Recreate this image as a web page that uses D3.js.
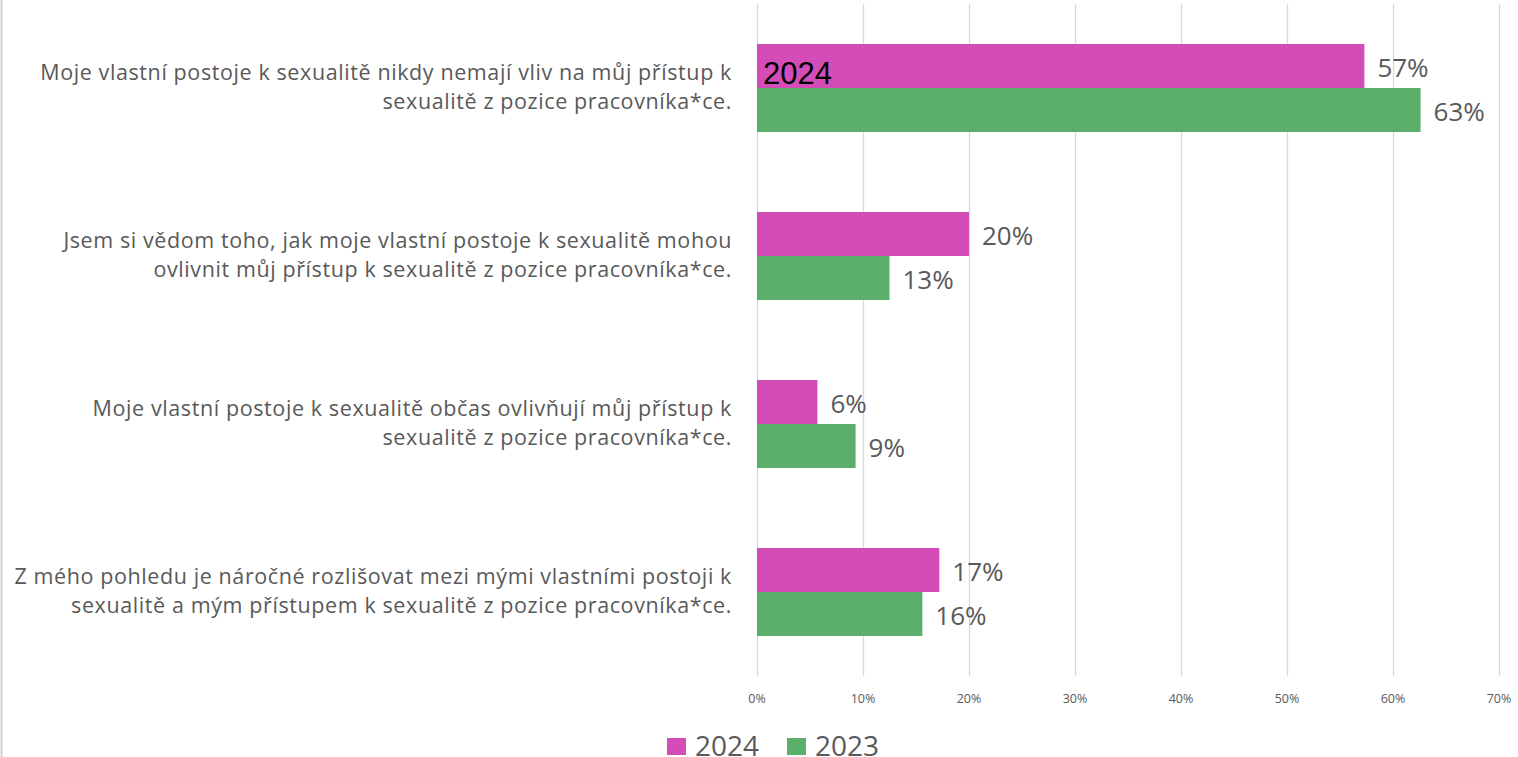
<!DOCTYPE html>
<html>
<head>
<meta charset="utf-8">
<script src="https://cdn.jsdelivr.net/npm/d3@7"></script>
<style>
  body { margin: 0; background: #fff; }
  svg { display: block; }
</style>
</head>
<body>
<div id="chart"></div>
<script>
// categories (two-line labels) and series values, in percent
const categories = [
  ["Moje vlastní postoje k sexualitě nikdy nemají vliv na můj přístup k", "sexualitě z pozice pracovníka*ce."],
  ["Jsem si vědom toho, jak moje vlastní postoje k sexualitě mohou", "ovlivnit můj přístup k sexualitě z pozice pracovníka*ce."],
  ["Moje vlastní postoje k sexualitě občas ovlivňují můj přístup k", "sexualitě z pozice pracovníka*ce."],
  ["Z mého pohledu je náročné rozlišovat mezi mými vlastními postoji k", "sexualitě a mým přístupem k sexualitě z pozice pracovníka*ce."]
];
const values2024 = [57.3, 20.0, 5.7, 17.2];
const values2023 = [62.6, 12.5, 9.3, 15.6];
const labels2024 = ["57%", "20%", "6%", "17%"];
const labels2023 = ["63%", "13%", "9%", "16%"];
const ticks = [0, 10, 20, 30, 40, 50, 60, 70];
const seriesNames = ["2024", "2023"];

const W = 1518, H = 757;
const colors = { "2024": "#d44cb8", "2023": "#5aaf6a" };
const textColor = "#595959";

const svg = d3.select("#chart").append("svg")
  .attr("width", W).attr("height", H);

// left frame line
svg.append("line")
  .attr("x1", 1.5).attr("x2", 1.5).attr("y1", 0).attr("y2", H)
  .attr("stroke", "#d0d0d0").attr("stroke-width", 2);

const x = d3.scaleLinear().domain([0, 70]).range([757, 1499]);
const y = d3.scaleBand().domain(d3.range(categories.length)).range([4, 676]);
const barH = 44;

// gridlines
svg.append("g").selectAll("line").data(ticks).enter().append("line")
  .attr("x1", d => Math.round(x(d)) + 0.5).attr("x2", d => Math.round(x(d)) + 0.5)
  .attr("y1", 4).attr("y2", 676)
  .attr("stroke", "#d9d9d9").attr("stroke-width", 1.3);

// tick labels
svg.append("g").selectAll("text").data(ticks).enter().append("text")
  .attr("x", d => x(d)).attr("y", 703)
  .attr("text-anchor", "middle")
  .attr("font-family", "Open Sans, sans-serif").attr("font-size", 12.5)
  .attr("fill", textColor)
  .text(d => d + "%");

const rows = categories.map((c, i) => ({
  i, lines: c, v24: values2024[i], v23: values2023[i], l24: labels2024[i], l23: labels2023[i]
}));

const g = svg.append("g").selectAll("g").data(rows).enter().append("g");

const mid = d => y(d.i) + y.bandwidth() / 2;

g.append("rect")
  .attr("x", x(0)).attr("y", d => mid(d) - barH)
  .attr("width", d => x(d.v24) - x(0)).attr("height", barH)
  .attr("fill", colors["2024"]);
g.append("rect")
  .attr("x", x(0)).attr("y", d => mid(d))
  .attr("width", d => x(d.v23) - x(0)).attr("height", barH)
  .attr("fill", colors["2023"]);

// value labels
const valSize = 26;
g.append("text")
  .attr("x", d => x(d.v24) + 13).attr("y", d => mid(d) - barH / 2 + 10.5)
  .attr("font-family", "Open Sans, sans-serif").attr("font-size", valSize)
  .attr("fill", textColor).text(d => d.l24);
g.append("text")
  .attr("x", d => x(d.v23) + 13).attr("y", d => mid(d) + barH / 2 + 10.5)
  .attr("font-family", "Open Sans, sans-serif").attr("font-size", valSize)
  .attr("fill", textColor).text(d => d.l23);

// category labels
g.append("text")
  .attr("text-anchor", "end")
  .attr("font-family", "Open Sans, sans-serif").attr("font-size", 21.5)
  .attr("letter-spacing", 0.6)
  .attr("fill", textColor)
  .selectAll("tspan").data(d => d.lines.map((t, k) => ({ t, k, m: mid(d) }))).enter()
  .append("tspan")
  .attr("x", 732)
  .attr("y", d => d.m - 8 + d.k * 29)
  .text(d => d.t);

// stray series label inside first bar
svg.append("text")
  .attr("x", x(0) + 6).attr("y", mid(rows[0]) - 4)
  .attr("font-family", "Liberation Sans, Arial, sans-serif").attr("font-size", 31)
  .attr("fill", "#000").text(seriesNames[0]);

// legend
const legend = svg.append("g");
const legendX = [667, 787];
seriesNames.forEach((s, k) => {
  legend.append("rect")
    .attr("x", legendX[k]).attr("y", 738).attr("width", 19).attr("height", 17)
    .attr("fill", colors[s]);
  legend.append("text")
    .attr("x", legendX[k] + 28).attr("y", 756)
    .attr("font-family", "Open Sans, sans-serif").attr("font-size", 28)
    .attr("fill", textColor).text(s);
});
</script>
</body>
</html>
